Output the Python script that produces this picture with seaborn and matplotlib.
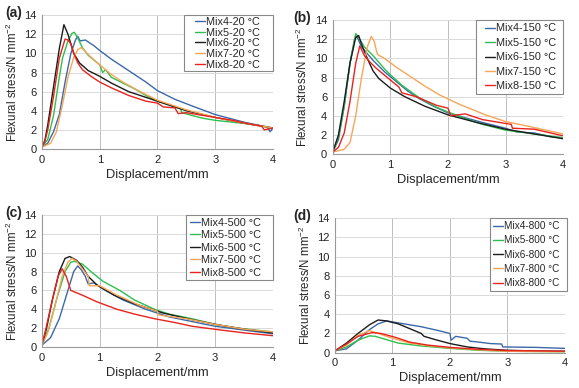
import matplotlib
matplotlib.use('agg')
import matplotlib.pyplot as plt
import seaborn as sns
import numpy as np
import pandas as pd
from matplotlib.ticker import MultipleLocator
from matplotlib.legend_handler import HandlerLine2D
from matplotlib.lines import Line2D

### data (displacement in mm, stress in N/mm2)

# (a) 20 °C
a_mix4_x = [0, 0.1, 0.2, 0.3, 0.4, 0.5, 0.58, 0.62, 0.66, 0.75, 0.9, 1.0, 1.2, 1.4, 1.6, 1.8, 2.0, 2.3, 2.6, 3.0, 3.5, 3.9, 3.95, 4.0]
a_mix4_y = [0.2, 0.6, 1.8, 3.6, 7.0, 10.0, 11.4, 11.8, 11.3, 11.4, 10.8, 10.3, 9.4, 8.6, 7.8, 7.0, 6.1, 5.2, 4.5, 3.6, 2.8, 2.3, 1.8, 2.2]
a_mix5_x = [0, 0.1, 0.2, 0.3, 0.35, 0.36, 0.45, 0.52, 0.56, 0.62, 0.7, 0.8, 0.9, 1.0, 1.05, 1.1, 1.2, 1.4, 1.6, 1.8, 2.0, 2.2, 2.4, 2.42, 2.6, 2.8, 3.0, 3.3, 3.6, 4.0]
a_mix5_y = [0.2, 1.0, 3.5, 7.5, 9.3, 9.6, 11.3, 12.1, 12.2, 11.6, 10.6, 9.8, 9.3, 8.8, 8.0, 8.3, 7.5, 6.9, 6.3, 5.6, 5.0, 4.6, 4.2, 3.8, 3.5, 3.2, 3.0, 2.8, 2.6, 2.2]
a_mix6_x = [0, 0.05, 0.1, 0.2, 0.3, 0.38, 0.45, 0.55, 0.65, 0.8, 1.0, 1.2, 1.5, 1.8, 2.0, 2.5, 3.0, 3.5, 4.0]
a_mix6_y = [0.2, 0.9, 2.5, 6.5, 10.5, 13.0, 12.0, 10.0, 9.0, 8.2, 7.6, 6.9, 6.0, 5.4, 5.0, 4.0, 3.3, 2.7, 2.2]
a_mix7_x = [0, 0.15, 0.25, 0.35, 0.45, 0.55, 0.62, 0.68, 0.75, 0.85, 1.0, 1.2, 1.4, 1.7, 2.0, 2.5, 3.0, 3.5, 4.0]
a_mix7_y = [0.2, 0.6, 1.8, 4.5, 7.5, 9.6, 10.4, 10.6, 10.2, 9.6, 8.8, 7.8, 7.0, 6.0, 5.1, 4.1, 3.3, 2.7, 2.2]
a_mix8_x = [0, 0.05, 0.1, 0.2, 0.3, 0.4, 0.45, 0.5, 0.55, 0.62, 0.7, 0.85, 1.0, 1.2, 1.5, 1.8, 2.0, 2.1, 2.3, 2.36, 2.5, 2.8, 3.0, 3.3, 3.6, 3.8, 3.85, 4.0]
a_mix8_y = [0.2, 0.8, 2.0, 5.5, 9.5, 11.5, 11.4, 11.0, 10.0, 9.0, 8.3, 7.6, 7.0, 6.4, 5.6, 5.0, 4.8, 4.4, 4.3, 3.7, 3.8, 3.5, 3.3, 3.0, 2.6, 2.4, 2.0, 2.2]

# (b) 150 °C
b_mix4_x = [0, 0.1, 0.2, 0.3, 0.38, 0.42, 0.5, 0.6, 0.7, 0.9, 1.0, 1.3, 1.5, 1.75, 2.0, 2.3, 2.6, 3.0, 3.2, 3.5, 3.8, 4.0]
b_mix4_y = [0.2, 1.5, 5.0, 9.5, 12.0, 12.3, 11.2, 10.5, 9.8, 8.6, 8.1, 6.6, 5.8, 5.0, 4.3, 3.8, 3.3, 2.7, 2.3, 2.2, 1.8, 1.7]
b_mix5_x = [0, 0.1, 0.2, 0.3, 0.4, 0.45, 0.55, 0.7, 0.9, 1.0, 1.2, 1.5, 1.8, 2.0, 2.3, 2.6, 3.0, 3.5, 4.0]
b_mix5_y = [0.2, 1.8, 5.0, 9.5, 12.6, 12.2, 11.2, 10.3, 8.9, 8.3, 7.2, 5.9, 4.9, 4.4, 3.7, 3.1, 2.5, 2.1, 1.7]
b_mix6_x = [0, 0.1, 0.2, 0.3, 0.4, 0.45, 0.5, 0.6, 0.7, 0.8, 1.0, 1.25, 1.6, 2.0, 2.5, 3.0, 3.5, 4.0]
b_mix6_y = [0.2, 2.0, 5.5, 9.5, 12.2, 12.4, 11.5, 10.0, 8.7, 7.9, 6.9, 6.0, 5.0, 4.1, 3.3, 2.6, 2.1, 1.6]
b_mix7_x = [0, 0.2, 0.3, 0.4, 0.5, 0.6, 0.67, 0.72, 0.76, 0.78, 0.9, 1.1, 1.35, 1.6, 1.85, 2.2, 2.65, 3.0, 3.4, 4.0]
b_mix7_y = [0.2, 0.5, 1.2, 4.0, 8.0, 11.2, 12.3, 11.8, 10.8, 10.4, 10.0, 9.1, 8.1, 7.1, 6.2, 5.2, 4.1, 3.4, 2.9, 2.1]
b_mix8_x = [0, 0.1, 0.2, 0.3, 0.4, 0.47, 0.55, 0.65, 0.75, 0.95, 1.15, 1.2, 1.45, 1.8, 2.0, 2.05, 2.3, 2.6, 3.1, 3.12, 3.5, 4.0]
b_mix8_y = [0.2, 0.7, 2.2, 5.5, 9.5, 11.3, 10.3, 9.6, 9.0, 8.0, 7.0, 6.4, 6.0, 5.1, 4.8, 4.0, 4.2, 3.6, 3.1, 2.7, 2.6, 1.9]

# (c) 500 °C
c_mix4_x = [0, 0.15, 0.3, 0.45, 0.55, 0.62, 0.68, 0.75, 0.8, 0.9, 1.1, 1.4, 1.8, 2.2, 2.6, 3.0, 3.5, 4.0]
c_mix4_y = [0.2, 1.0, 3.0, 6.0, 8.0, 8.6, 8.2, 7.5, 6.7, 6.8, 6.0, 5.0, 4.0, 3.2, 2.7, 2.2, 1.8, 1.4]
c_mix5_x = [0, 0.12, 0.25, 0.4, 0.5, 0.56, 0.7, 0.85, 1.05, 1.35, 1.6, 1.95, 2.2, 2.6, 3.0, 3.4, 4.0]
c_mix5_y = [0.2, 2.0, 5.0, 8.0, 9.0, 9.1, 8.8, 8.0, 7.0, 6.0, 5.0, 4.0, 3.5, 3.0, 2.4, 2.0, 1.6]
c_mix6_x = [0, 0.08, 0.18, 0.3, 0.4, 0.48, 0.6, 0.7, 0.8, 0.95, 1.25, 1.6, 2.1, 2.6, 3.1, 3.5, 4.0]
c_mix6_y = [0.2, 2.0, 5.0, 8.0, 9.4, 9.6, 9.2, 8.5, 7.5, 6.6, 5.5, 4.6, 3.6, 2.9, 2.3, 1.9, 1.5]
c_mix7_x = [0, 0.1, 0.22, 0.35, 0.45, 0.52, 0.6, 0.7, 0.8, 0.82, 1.0, 1.3, 1.7, 2.0, 2.02, 2.5, 3.0, 3.5, 4.0]
c_mix7_y = [0.2, 1.5, 4.2, 7.5, 9.0, 9.4, 9.1, 8.3, 7.5, 6.5, 6.5, 5.5, 4.4, 3.8, 3.4, 3.0, 2.4, 1.9, 1.6]
c_mix8_x = [0, 0.07, 0.18, 0.28, 0.35, 0.42, 0.5, 0.7, 0.95, 1.3, 1.6, 1.95, 2.3, 2.6, 3.1, 3.5, 4.0]
c_mix8_y = [0.2, 2.0, 5.0, 7.5, 8.3, 7.5, 6.0, 5.5, 4.8, 4.0, 3.5, 3.0, 2.6, 2.2, 1.8, 1.5, 1.2]

# (d) 800 °C
d_mix4_x = [0, 0.2, 0.4, 0.6, 0.75, 0.9, 1.0, 1.2, 1.5, 1.8, 2.0, 2.02, 2.1, 2.3, 2.35, 2.5, 2.7, 2.9, 2.92, 3.5, 4.0]
d_mix4_y = [0.2, 0.4, 1.3, 2.4, 3.0, 3.3, 3.2, 3.0, 2.7, 2.3, 2.0, 1.3, 1.7, 1.5, 1.2, 1.1, 0.95, 0.9, 0.6, 0.55, 0.45]
d_mix5_x = [0, 0.2, 0.4, 0.6, 0.7, 0.9, 1.1, 1.5, 2.0, 2.5, 3.0, 4.0]
d_mix5_y = [0.2, 0.6, 1.3, 1.75, 1.7, 1.35, 1.0, 0.7, 0.45, 0.25, 0.15, 0.1]
d_mix6_x = [0, 0.2, 0.4, 0.6, 0.75, 0.9, 1.1, 1.3, 1.5, 1.55, 1.75, 2.0, 2.3, 2.6, 3.0, 3.5, 4.0]
d_mix6_y = [0.2, 1.0, 2.0, 2.9, 3.4, 3.3, 3.0, 2.5, 2.0, 1.7, 1.35, 0.95, 0.6, 0.4, 0.25, 0.18, 0.15]
d_mix7_x = [0, 0.2, 0.4, 0.6, 0.75, 1.0, 1.3, 1.6, 2.0, 2.5, 3.0, 4.0]
d_mix7_y = [0.2, 0.8, 1.8, 2.3, 2.0, 1.5, 1.0, 0.75, 0.5, 0.3, 0.15, 0.1]
d_mix8_x = [0, 0.2, 0.4, 0.65, 0.8, 1.05, 1.3, 1.6, 2.0, 2.5, 3.0, 4.0]
d_mix8_y = [0.2, 0.9, 1.7, 2.1, 2.0, 1.6, 1.1, 0.8, 0.55, 0.35, 0.22, 0.15]

mixes = ['Mix4', 'Mix5', 'Mix6', 'Mix7', 'Mix8']
colors = ['#3d68a8', '#2fbf4f', '#1c1c1c', '#f7a657', '#e8231d']

sns.set_style("white")
plt.rcParams['font.family'] = ['Liberation Sans', 'DejaVu Sans']
plt.rcParams['mathtext.fontset'] = 'custom'
plt.rcParams['mathtext.rm'] = 'Liberation Sans'
plt.rcParams['mathtext.default'] = 'regular'

fig = plt.figure(figsize=(5.79, 3.88), dpi=100)

# rect, legend: width (axes frac), right edge, font size, left pad px, label spacing, border pad
panels = [
    ('(a)', '20', [0.0725, 0.616, 0.399, 0.345], 0.385, 1.0, 7.8, 11, 0.07, 0.15,
     [(a_mix4_x, a_mix4_y), (a_mix5_x, a_mix5_y), (a_mix6_x, a_mix6_y), (a_mix7_x, a_mix7_y), (a_mix8_x, a_mix8_y)]),
    ('(b)', '150', [0.5746, 0.603, 0.398, 0.345], 0.378, 1.0, 7.8, 9, 0.41, 0.3,
     [(b_mix4_x, b_mix4_y), (b_mix5_x, b_mix5_y), (b_mix6_x, b_mix6_y), (b_mix7_x, b_mix7_y), (b_mix8_x, b_mix8_y)]),
    ('(c)', '500', [0.0725, 0.1057, 0.3985, 0.340], 0.377, 1.0, 7.8, 4, 0.23, 0.25,
     [(c_mix4_x, c_mix4_y), (c_mix5_x, c_mix5_y), (c_mix6_x, c_mix6_y), (c_mix7_x, c_mix7_y), (c_mix8_x, c_mix8_y)]),
    ('(d)', '800', [0.5786, 0.091, 0.397, 0.347], 0.335, 1.009, 7.2, 2, 0.42, 0.32,
     [(d_mix4_x, d_mix4_y), (d_mix5_x, d_mix5_y), (d_mix6_x, d_mix6_y), (d_mix7_x, d_mix7_y), (d_mix8_x, d_mix8_y)]),
]

for letter, temp, rect, lw_frac, lright, leg_fs, lpad, lspace, bpad, series in panels:
    ax = fig.add_axes(rect)
    for (xs, ys), mix, col in zip(series, mixes, colors):
        sns.lineplot(x=xs, y=ys, ax=ax, color=col, lw=1.0, sort=False,
                     estimator=None, label=f'{mix}-{temp} °C')

    ax.set_xlim(0, 4)
    ax.set_ylim(0, 14)
    ax.xaxis.set_major_locator(MultipleLocator(1))
    ax.xaxis.set_minor_locator(MultipleLocator(0.5))
    ax.yaxis.set_major_locator(MultipleLocator(2))
    ax.grid(axis='y', color='#d9d9d9', lw=0.7)
    ax.grid(axis='x', which='major', color='#bdbdbd', lw=0.7)
    ax.set_axisbelow(True)
    for s in ['top', 'right']:
        ax.spines[s].set_visible(False)
    for s in ['left', 'bottom']:
        ax.spines[s].set_color('#999999')
        ax.spines[s].set_linewidth(0.8)
    ax.tick_params(axis='both', which='both', direction='out', length=2,
                   color='#aaaaaa', labelsize=8, labelcolor='#222222', pad=2)
    ax.tick_params(axis='x', which='major', length=0, pad=4)

    ax.set_xlabel('Displacement/mm', fontsize=9.3, labelpad=3)
    ax.set_ylabel('Flexural stress/N mm$^{-2}$', fontsize=8.3, labelpad=3)

    # short legend line (10 px), shifted in from the frame edge
    fs_px = leg_fs * 100 / 72
    xpad = max(lpad - bpad * fs_px, 0) / fs_px
    handles, labels = ax.get_legend_handles_labels()
    leg = ax.legend(handles, labels, loc='upper right',
                    bbox_to_anchor=(lright - lw_frac, 0, lw_frac, 1.0), mode='expand',
                    borderaxespad=0, fontsize=leg_fs, frameon=True, fancybox=False,
                    edgecolor='#888888', framealpha=1, handlelength=xpad + 10 / fs_px,
                    handletextpad=0.12, labelspacing=lspace, borderpad=bpad,
                    handler_map={Line2D: HandlerLine2D(xpad=xpad)})
    leg.get_frame().set_linewidth(0.8)

    lx = 0.009 if rect[0] < 0.3 else 0.506
    fig.text(lx, rect[1] + rect[3] - 0.004, letter, fontsize=10,
             fontweight='bold', va='baseline', ha='left')

fig.savefig('out.png', dpi=100)
